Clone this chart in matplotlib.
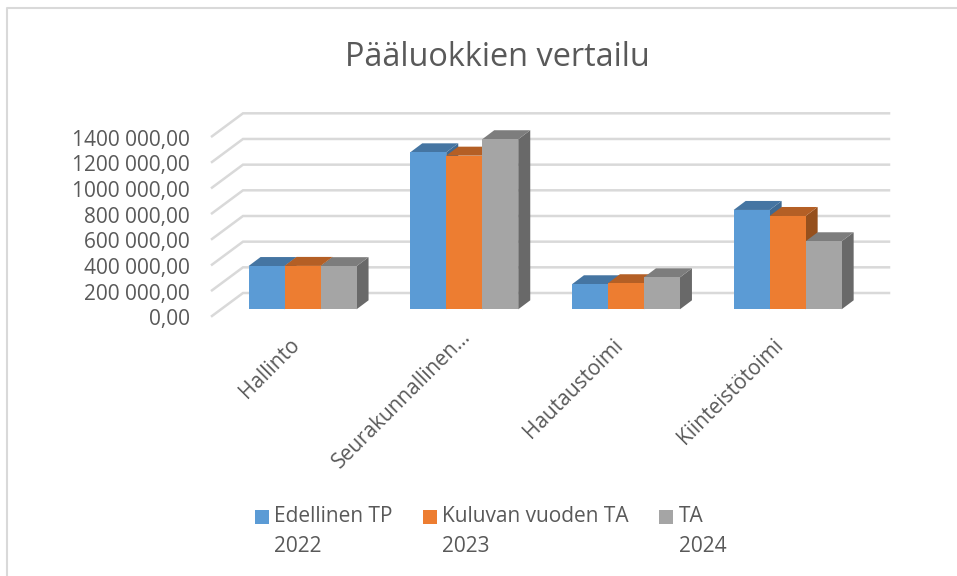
import matplotlib
matplotlib.use('Agg')
import matplotlib.pyplot as plt
from matplotlib.patches import Polygon, Rectangle, Patch
from matplotlib.lines import Line2D
from matplotlib.legend_handler import HandlerPatch
from matplotlib.ticker import FuncFormatter
from matplotlib.transforms import Affine2D

categories = ['Hallinto', 'Seurakunnallinen…', 'Hautaustoimi', 'Kiinteistötoimi']
series_names = ['Edellinen TP\n2022', 'Kuluvan vuoden TA\n2023', 'TA\n2024']
edellinen = [337000, 1223000, 195000, 774000]
kuluva = [338000, 1197000, 203000, 727000]
ta = [336000, 1325000, 249000, 530000]
series_values = [edellinen, kuluva, ta]
y_ticks = [0, 200000, 400000, 600000, 800000, 1000000, 1200000, 1400000]

front_colors = ['#5B9BD5', '#ED7D31', '#A5A5A5']
top_colors = ['#4575A2', '#B45F25', '#7D7D7D']
side_colors = ['#3E6A93', '#96501D', '#696969']
TEXT = '#595959'
GRID = '#D9D9D9'

W, H = 957, 576
# pixel sizes of the fake 3d
PX_X = 161.7            # one category
PX_Y = 25.67 / 200000   # one unit of value
LEFT, RIGHT, BOTTOM = 212, 889, 316
TOP = 113.3
WALL_DX, WALL_DY = 31, 23
BAR_DX, BAR_DY = 9.7, 6.7   # front of bars, measured from the front plane
DEPTH_DX, DEPTH_DY = 12, 9  # depth of one bar
BAR_W = 36 / PX_X
label_nudge = [(-4, 0), (6, 8), (-4, 0), (-5, 0)]  # px, rotated labels


def fmt(v, pos=None):
    whole = int(round(v))
    if whole >= 1000:
        return '{} {:03d},00'.format(whole // 1000, whole % 1000)
    return '{},00'.format(whole)


def shift(x, y, dx, dy):
    return (x + dx / PX_X, y + dy / PX_Y)


def legend_square(legend, orig_handle, xdescent, ydescent, width, height, fontsize):
    # square sits next to the first line of the label, not in the middle
    return Rectangle((-xdescent, -ydescent + 11), width, height)


plt.rcParams['font.family'] = ['Open Sans', 'DejaVu Sans']
fig = plt.figure(figsize=(W / 100, H / 100), dpi=100)
fig.add_artist(Line2D([6.5 / W, 6.5 / W, 1], [0, 1 - 8 / H, 1 - 8 / H], transform=fig.transFigure,
                      color='#D9D9D9', lw=1.5))
ax = fig.add_axes([LEFT / W, 1 - BOTTOM / H, (RIGHT - LEFT) / W, (BOTTOM - TOP) / H])
ax.set_xlim(0, (RIGHT - LEFT) / PX_X)
ax.set_ylim(0, (BOTTOM - TOP) / PX_Y)
ax.patch.set_alpha(0)
for s in ax.spines.values():
    s.set_visible(False)

# gridlines run along the floor/side wall and then along the back wall
x_end = (RIGHT - LEFT) / PX_X
for v in y_ticks:
    bx, by = shift(0, v, WALL_DX, WALL_DY)
    ax.plot([0, bx, x_end], [v, by, by], color=GRID, lw=1.8, clip_on=False, zorder=1,
            solid_joinstyle='miter')

for i, name in enumerate(categories):
    cx = i + 0.5
    for j, vals in enumerate(series_values):
        v = vals[i]
        x0 = cx + (j - 1.5) * BAR_W
        x0, y0 = shift(x0, 0, BAR_DX, BAR_DY)
        x1 = x0 + BAR_W
        y1 = y0 + v
        z = 3 + i * 10 + j
        side = [(x1, y0), shift(x1, y0, DEPTH_DX, DEPTH_DY), shift(x1, y1, DEPTH_DX, DEPTH_DY), (x1, y1)]
        top = [(x0, y1), (x1, y1), shift(x1, y1, DEPTH_DX, DEPTH_DY), shift(x0, y1, DEPTH_DX, DEPTH_DY)]
        ax.add_patch(Polygon(side, closed=True, fc=side_colors[j], ec='none', zorder=z))
        ax.add_patch(Polygon(top, closed=True, fc=top_colors[j], ec='none', zorder=z))
        ax.bar(x0, v, width=BAR_W, bottom=y0, align='edge', color=front_colors[j],
               edgecolor='none', zorder=z + 0.5)

ax.set_yticks(y_ticks)
ax.yaxis.set_major_formatter(FuncFormatter(fmt))
ax.set_xticks([i + 0.5 for i in range(len(categories))])
ax.set_xticklabels(categories, rotation=45, ha='right', va='top', rotation_mode='anchor')
ax.tick_params(axis='both', length=0, labelsize=15, labelcolor=TEXT)
ax.tick_params(axis='x', pad=13.4)
ax.tick_params(axis='y', pad=15.8)

for lab, (dx, dy) in zip(ax.get_xticklabels(), label_nudge):
    lab.set_transform(lab.get_transform() + Affine2D().translate(dx, dy))
for lab in ax.get_yticklabels():
    lab.set_transform(lab.get_transform() + Affine2D().translate(0, -1.5))

fig.text(497 / W, 1 - 58 / H, 'Pääluokkien vertailu', ha='center', va='center', fontsize=23.4, color=TEXT)

handles = [Patch(facecolor=c) for c in front_colors]
leg = fig.legend(handles, series_names, loc='center', bbox_to_anchor=(490.5 / W, 1 - 531.5 / H), ncol=3,
                 frameon=False, fontsize=15, labelcolor=TEXT, handlelength=0.67, handleheight=0.67,
                 handletextpad=0.27, columnspacing=1.44, borderpad=0, labelspacing=0,
                 handler_map={Patch: HandlerPatch(patch_func=legend_square)})
for t in leg.get_texts():
    t.set_linespacing(1.6)

fig.savefig('out.png', dpi=100)
